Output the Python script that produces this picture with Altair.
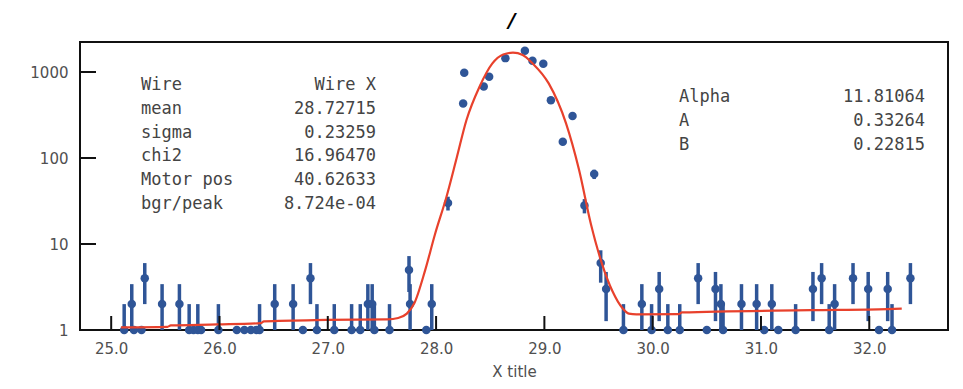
import altair as alt
import pandas as pd

# ---- data ----
pt_x = [25.12, 25.19, 25.21, 25.28, 25.31, 25.47, 25.63, 25.72, 25.76, 25.80, 25.83, 25.99,
        26.16, 26.23, 26.29, 26.34, 26.37, 26.51, 26.68, 26.77, 26.84, 26.90, 27.06, 27.22,
        27.30, 27.37, 27.41, 27.43, 27.57, 27.75, 27.76, 27.91, 27.96,
        28.11, 28.25, 28.26, 28.44, 28.49, 28.64, 28.82, 28.89, 28.99, 29.06, 29.17, 29.26,
        29.37, 29.46, 29.52, 29.57, 29.73,
        29.90, 29.99, 30.06, 30.14, 30.25, 30.42, 30.50, 30.58, 30.63, 30.65, 30.82, 30.96,
        31.03, 31.10, 31.16, 31.32, 31.48, 31.56, 31.63, 31.68, 31.85, 31.99, 32.09, 32.17,
        32.21, 32.38]
pt_n = [1, 2, 0, 0, 4, 2, 2, 1, 0, 1, 0, 1,
        0, 0, 0, 0, 1, 2, 2, 0, 4, 1, 1, 1,
        1, 2, 2, 1, 1, 5, 2, 0, 2,
        30, 430, 980, 680, 880, 1450, 1770, 1350, 1250, 470, 155, 307,
        28, 65, 6, 3, 1,
        2, 1, 3, 1, 1, 4, 0, 3, 2, 1, 2, 2,
        0, 2, 0, 1, 3, 4, 1, 2, 4, 3, 0, 3,
        1, 4]

fit_x = [25.09, 25.52, 25.55, 25.98, 26.38, 26.41, 26.99, 27.55, 27.65, 27.73, 27.80, 27.90,
         27.99, 28.095, 28.19, 28.28, 28.40, 28.52, 28.62, 28.71, 28.80, 28.89, 29.04, 29.20,
         29.32, 29.43, 29.53, 29.63, 29.72, 29.78, 29.85, 30.24, 30.27, 31.46, 32.17, 32.30]
fit_y = [1.075, 1.09, 1.13, 1.16, 1.20, 1.26, 1.31, 1.33, 1.38, 1.55, 2.06, 5.0,
         13.0, 35.0, 100.0, 275.0, 670.0, 1260.0, 1600.0, 1680.0, 1580.0, 1264.0, 737.0, 253.0,
         73.0, 17.0, 6.0, 2.8, 1.8, 1.55, 1.52, 1.53, 1.60, 1.70, 1.75, 1.77]

x_ticks = [25, 26, 27, 28, 29, 30, 31, 32]
y_ticks = [1, 10, 100, 1000]

left_labels = ["Wire", "mean", "sigma", "chi2", "Motor pos", "bgr/peak"]
left_values = ["Wire X", "28.72715", "0.23259", "16.96470", "40.62633", "8.724e-04"]
right_labels = ["Alpha", "A", "B"]
right_values = ["11.81064", "0.33264", "0.22815"]

title_text = "/"
x_title = "X title"

# ---- styling ----
W, H = 868, 288
BLUE = "#2f5597"
RED = "#e8412c"
LABEL = "#505050"
TXT = "#444444"
MONO = "DejaVu Sans Mono"

xs = alt.Scale(domain=[24.712, 32.727], nice=False, zero=False)
ys = alt.Scale(type="log", domain=[1, 2233], nice=False, clamp=True)

x_axis = alt.Axis(values=x_ticks, format=".1f", ticks=False, domain=False, grid=False,
                  labelFontSize=15, labelColor=LABEL, labelFont="DejaVu Sans", labelPadding=11,
                  title=x_title, titleFontSize=15, titleFontWeight="normal", titleColor=LABEL,
                  titleFont="DejaVu Sans", titlePadding=8)
y_axis = alt.Axis(values=y_ticks, format="d", ticks=False, domain=False, grid=False,
                  labelFontSize=15, labelColor=LABEL, labelFont="DejaVu Sans", labelPadding=12,
                  title=None)

pts = pd.DataFrame({"x": pt_x, "n": pt_n})
base = alt.Chart(pts).transform_calculate(
    yp="max(datum.n, 1)",
    lo="max(datum.n - sqrt(datum.n), 1)",
    hi="datum.n + sqrt(datum.n)",
)

bars = base.transform_filter("datum.n > 0").mark_rule(color=BLUE, strokeWidth=3.5).encode(
    x=alt.X("x:Q", scale=xs, axis=x_axis),
    y=alt.Y("lo:Q", scale=ys, axis=y_axis),
    y2="hi:Q",
)
dots = base.mark_circle(color=BLUE, size=72, opacity=1).encode(
    x=alt.X("x:Q", scale=xs),
    y=alt.Y("yp:Q", scale=ys),
)

fit = alt.Chart(pd.DataFrame({"x": fit_x, "y": fit_y})).mark_line(
    color=RED, strokeWidth=2.2, interpolate="monotone"
).encode(x=alt.X("x:Q", scale=xs), y=alt.Y("y:Q", scale=ys))

ytk = alt.Chart(pd.DataFrame({"v": y_ticks})).mark_rule(color="#111", strokeWidth=2).encode(
    y=alt.Y("v:Q", scale=ys), x=alt.value(0), x2=alt.value(16)
)
xtk = alt.Chart(pd.DataFrame({"v": x_ticks})).mark_rule(color="#111", strokeWidth=2).encode(
    x=alt.X("v:Q", scale=xs), y=alt.value(H), y2=alt.value(H - 14)
)

one = pd.DataFrame({"k": [0]})

def block(lines, x, y, align):
    return alt.Chart(one).mark_text(
        text=lines, font=MONO, fontSize=17, color=TXT, align=align,
        baseline="alphabetic", lineHeight=23.8
    ).encode(x=alt.value(x), y=alt.value(y))

t1 = block(left_labels, 61, 48, "left")
t2 = block(left_values, 296, 48, "right")
t3 = block(right_labels, 599, 60, "left")
t4 = block(right_values, 845, 60, "right")

ttl = alt.Chart(one).mark_text(
    text=title_text, fontSize=20, fontWeight="bold", fontStyle="italic",
    font="DejaVu Sans", color="#000", align="center", baseline="alphabetic"
).encode(x=alt.value(432), y=alt.value(-15))

chart = alt.layer(bars, dots, fit, ytk, xtk, t1, t2, t3, t4, ttl).properties(
    width=W, height=H,
    autosize=alt.AutoSizeParams(type="none"),
    padding={"left": 72, "top": 34, "right": 7, "bottom": 51},
    background="white",
).configure_view(stroke="#111", strokeWidth=2)

chart.save("out.html", embed_options={"renderer": "svg", "actions": False})
